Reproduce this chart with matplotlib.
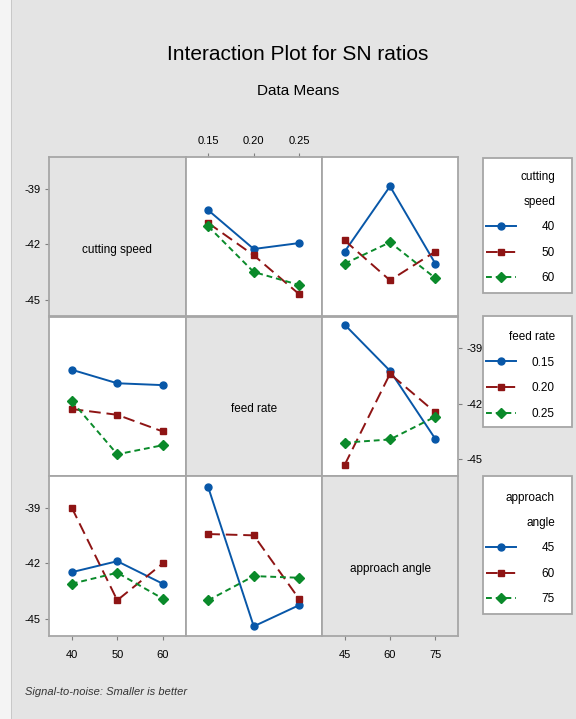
import matplotlib
matplotlib.use("Agg")
import matplotlib.pyplot as plt
from matplotlib.patches import Rectangle

plt.rcParams['font.family'] = ['Liberation Sans', 'DejaVu Sans']

factors = ["cutting speed", "feed rate", "approach angle"]
legend_titles = ["cutting\nspeed", "feed rate", "approach\nangle"]
level_labels = [["40", "50", "60"], ["0.15", "0.20", "0.25"], ["45", "60", "75"]]

# means[(line factor, x factor)] -> one list per level of the line factor
means = {
    (0, 1): [[-40.17, -42.26, -41.94], [-40.86, -42.60, -44.70], [-41.04, -43.50, -44.20]],
    (0, 2): [[-42.40, -38.88, -43.05], [-41.80, -43.95, -42.40], [-43.05, -41.90, -43.83]],
    (1, 0): [[-40.17, -40.90, -41.00], [-42.29, -42.60, -43.50], [-41.86, -44.73, -44.24]],
    (1, 2): [[-37.74, -40.23, -43.90], [-45.30, -40.39, -42.47], [-44.10, -43.93, -42.70]],
    (2, 0): [[-42.47, -41.88, -43.09], [-39.00, -43.98, -42.00], [-43.09, -42.50, -43.89]],
    (2, 1): [[-37.91, -45.38, -44.24], [-40.42, -40.49, -43.92], [-43.98, -42.68, -42.77]],
}

colors = ["#0857a8", "#8e1414", "#0a8a2a"]
markers = ["o", "s", "D"]
styles = ["-", (0, (6, 3)), (0, (3, 2))]
yticks = [-39, -42, -45]
bg = "#e4e4e4"
edge = "#a6a6a6"

fig = plt.figure(figsize=(5.76, 7.19), dpi=100, facecolor=bg)
W, H = 576.0, 719.0
fig.patches.append(Rectangle((0, 0), 11 / W, 1, transform=fig.transFigure,
                             facecolor="#f4f4f4", edgecolor="none"))
fig.patches.append(Rectangle((11 / W, 0), 1.2 / W, 1, transform=fig.transFigure,
                             facecolor="#c8c8c8", edgecolor="none"))

col_x = [49, 185.5, 322, 458]
row_y = [157, 316.5, 476, 636]

fig.text(298 / W, 1 - 55 / H, "Interaction Plot for SN ratios", ha="center", va="center",
         fontsize=15)
fig.text(298 / W, 1 - 91 / H, "Data Means", ha="center", va="center", fontsize=11)
fig.text(25 / W, 1 - 692 / H, "Signal-to-noise: Smaller is better", ha="left", va="center",
         fontsize=8, style="italic", color="#333333")

axes = {}
for r in range(3):
    for c in range(3):
        ax = fig.add_axes([col_x[c] / W, 1 - row_y[r + 1] / H,
                           (col_x[c + 1] - col_x[c]) / W, (row_y[r + 1] - row_y[r]) / H])
        ax.set_xlim(0.5, 3.5)
        ax.set_ylim(-45.9, -37.3)
        for s in ax.spines.values():
            s.set_color(edge)
            s.set_linewidth(1.3)
        ax.tick_params(length=3, color="#808080", labelsize=8, pad=3)
        ax.set_xticks([1, 2, 3])
        ax.set_yticks(yticks)
        ax.tick_params(bottom=False, labelbottom=False, left=False, labelleft=False)
        if r == c:
            ax.set_facecolor(bg)
            ax.text(0.5, 0.42, factors[r], transform=ax.transAxes, ha="center",
                    va="center", fontsize=8.5)
        else:
            ax.set_facecolor("white")
            x = [1, 2, 3]
            for k in range(3):
                ax.plot(x, means[(r, c)][k], color=colors[k], marker=markers[k],
                        linestyle=styles[k], linewidth=1.4, markersize=5,
                        label=level_labels[r][k])
        axes[(r, c)] = ax

# axis ticks placed like the Minitab matrix layout
axes[(0, 1)].tick_params(top=True, labeltop=True, pad=5)
axes[(0, 1)].set_xticklabels(level_labels[1])
axes[(0, 0)].tick_params(left=True, labelleft=True)
axes[(0, 0)].set_yticklabels([str(v) for v in yticks])
axes[(2, 0)].tick_params(left=True, labelleft=True, bottom=True, labelbottom=True)
axes[(2, 0)].set_yticklabels([str(v) for v in yticks])
axes[(2, 0)].set_xticklabels(level_labels[0])
axes[(2, 0)].tick_params(axis="x", pad=7)
axes[(1, 2)].tick_params(right=True, labelright=True)
axes[(1, 2)].set_yticklabels([str(v) for v in yticks])
axes[(2, 2)].tick_params(bottom=True, labelbottom=True, pad=7)
axes[(2, 2)].set_xticklabels(level_labels[2])

# legend boxes (frame drawn separately so the right margin can be wider)
renderer = fig.canvas.get_renderer()
fs = 8.5
fs_px = fs * 100 / 72.0
hlen = 30.0 / fs_px
handle_x, text_right = 486.0, 555.0
legend_src = [axes[(0, 1)], axes[(1, 0)], axes[(2, 0)]]
box_top = [158, 316, 476]
box_bottom = [293, 427, 614]
title_gap = [13, 15, 16]
for i in range(3):
    fig.patches.append(Rectangle((483 / W, 1 - box_bottom[i] / H), 89 / W,
                                 (box_bottom[i] - box_top[i]) / H,
                                 transform=fig.transFigure, facecolor="white",
                                 edgecolor=edge, linewidth=1.3))
    handles, labels = legend_src[i].get_legend_handles_labels()
    probe = fig.text(0, 0, labels[0], fontsize=fs)
    lab_w = probe.get_window_extent(renderer).width
    probe.remove()
    tpad = (text_right - handle_x - 30.0 - lab_w) / fs_px
    leg = fig.legend(handles, labels, title=legend_titles[i], loc="upper left",
                     bbox_to_anchor=(handle_x / W, 1 - (box_top[i] + title_gap[i]) / H),
                     frameon=False, fontsize=fs, title_fontsize=fs,
                     handlelength=hlen, handletextpad=tpad, labelspacing=1.15,
                     borderpad=0, borderaxespad=0, alignment="right")
    leg.get_title().set_linespacing(2.4)
    leg.get_title().set_multialignment("right")

fig.savefig("out.png", dpi=100, facecolor=bg)
